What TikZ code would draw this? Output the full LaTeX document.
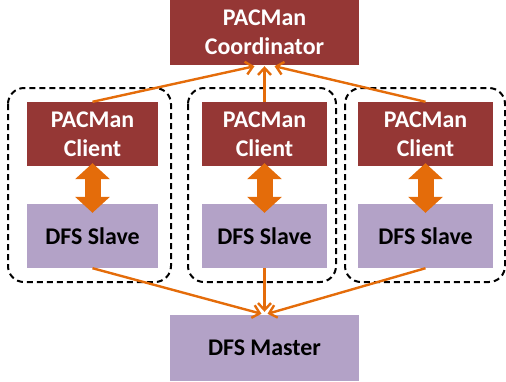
\documentclass[tikz,border=0pt]{standalone}
\usepackage{fontspec}
\setmainfont{Carlito}
\usepackage{xcolor}
\usepackage{tikz}
\usetikzlibrary{positioning,arrows.meta}

\definecolor{pacred}{HTML}{953735}
\definecolor{dfspurple}{HTML}{B3A2C7}
\definecolor{linkorange}{HTML}{E46C0A}

\tikzset{
    pacbox/.style={fill=pacred, text=white, inner sep=0pt, align=center,
        font=\fontsize{24}{29}\selectfont\bfseries},
    dfsbox/.style={fill=dfspurple, text=black, inner sep=0pt, align=center,
        font=\fontsize{24}{29}\selectfont\bfseries},
    group/.style={draw=black, line width=2bp, dash pattern=on 6bp off 4bp, rounded corners=16bp},
    link/.style={draw=linkorange, line width=2.4bp, -{Straight Barb[length=7bp,width=13bp]}},
    bothway/.style={draw=linkorange, line width=16bp,
        {Triangle[length=16bp,width=34bp]}-{Triangle[length=16bp,width=34bp]}}
}

\begin{document}
\begin{tikzpicture}[x=1bp, y=-1bp]
    \useasboundingbox (0,0) rectangle (506,381);

    % 
    \draw[group] (8,88) rectangle (171,282);
    \draw[group] (188,88) rectangle (336,282);
    \draw[group] (345,88) rectangle (505,282);

    % 
    \node[pacbox, minimum width=189bp, minimum height=65bp] (coord) at (264.5,32.5) {PACMan\\Coordinator};
    \node[dfsbox, minimum width=189bp, minimum height=66bp] (master) at (264.5,348) {DFS Master};

    % 
    \foreach \n/\x/\w in {1/92.5/131, 2/264.5/125, 3/425.5/135} {
        \node[pacbox, minimum width=\w bp, minimum height=64bp] (client\n) at (\x,134) {PACMan\\Client};
        \node[dfsbox, minimum width=\w bp, minimum height=64bp] (slave\n) at (\x,236) {DFS Slave};
        \draw[bothway] ([yshift=3bp]client\n.south) -- ([yshift=-9bp]slave\n.north);
    }

    % 
    \draw[link] (client1.north) -- ([xshift=-10bp,yshift=-1bp]coord.south);
    \draw[link] (client2.north) -- ([yshift=-1bp]coord.south);
    \draw[link] (client3.north) -- ([xshift=10bp,yshift=-1bp]coord.south);

    % 
    \draw[link] (slave1.south) -- ([xshift=-3bp,yshift=1bp]master.north);
    \draw[link] (slave2.south) -- ([yshift=3bp]master.north);
    \draw[link] (slave3.south) -- ([xshift=3bp,yshift=1bp]master.north);
\end{tikzpicture}
\end{document}
